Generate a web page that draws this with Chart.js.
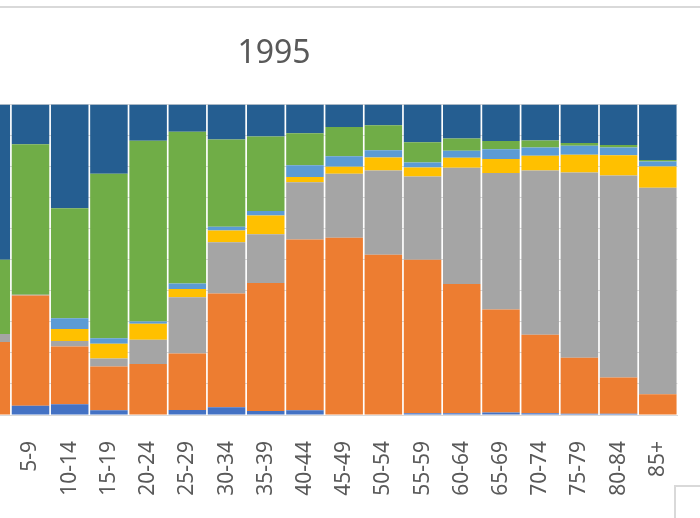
<!DOCTYPE html>
<html>
<head>
<meta charset="utf-8">
<script src="https://cdn.jsdelivr.net/npm/chart.js@4/dist/chart.umd.min.js"></script>
<style>
    html, body { margin: 0; padding: 0; background: #fff; }
    body { width: 700px; height: 518px; overflow: hidden; position: relative; }
    #frame-top { position: absolute; left: 0; top: 6px; width: 700px; height: 2px; background: #D9D9D9; }
    #legend-box { position: absolute; left: 674px; top: 485px; width: 40px; height: 40px;
        border-left: 2px solid #D9D9D9; border-top: 2px solid #D9D9D9; }
    #wrap { position: absolute; left: -161px; top: 0; width: 870px; height: 518px; }
</style>
</head>
<body>
<div id="frame-top"></div>
<div id="wrap"><canvas id="chart"></canvas></div>
<div id="legend-box"></div>
<script>
// الفئات العمرية
const categories = ['0-4', '5-9', '10-14', '15-19', '20-24', '25-29', '30-34', '35-39', '40-44',
    '45-49', '50-54', '55-59', '60-64', '65-69', '70-74', '75-79', '80-84', '85+'];

// قيم السلاسل (نسب مئوية مكدسة من الأسفل إلى الأعلى)
const series1 = [0, 3.0, 3.45, 1.5, 0, 1.6, 2.5, 1.3, 1.5, 0, 0, 0.6, 0.6, 0.8, 0.6, 0.4, 0.4, 0];
const series2 = [23.5, 35.5, 18.6, 14.1, 16.4, 18.2, 36.6, 41.2, 55.0, 57.1, 51.6, 49.4, 41.6, 33.2, 25.2, 18.0, 11.7, 6.7];
const series3 = [2.6, 0.2, 1.8, 2.6, 7.8, 18.1, 16.5, 15.7, 18.4, 20.6, 27.1, 26.8, 37.4, 43.9, 52.9, 59.7, 65.0, 66.5];
const series4 = [0, 0, 3.8, 4.7, 5.2, 2.7, 3.8, 6.0, 1.7, 2.2, 4.2, 2.9, 3.2, 4.5, 4.8, 5.7, 6.5, 6.8];
const series5 = [0, 0, 3.5, 1.8, 0.7, 1.7, 1.2, 1.5, 3.8, 3.4, 2.3, 1.6, 2.3, 3.2, 2.6, 2.9, 2.5, 1.6];
const series6 = [23.9, 48.5, 35.4, 53.0, 58.2, 48.9, 28.1, 24.0, 10.3, 9.4, 8.1, 6.5, 3.9, 2.6, 2.3, 0.9, 0.8, 0.5];
const series7 = [50.0, 12.8, 33.5, 22.3, 11.7, 8.8, 11.3, 10.3, 9.3, 7.3, 6.7, 12.2, 11.0, 11.8, 11.6, 12.4, 13.1, 17.9];

const seriesNames = ['Series1', 'Series2', 'Series3', 'Series4', 'Series5', 'Series6', 'Series7'];
const seriesValues = [series1, series2, series3, series4, series5, series6, series7];
const seriesColors = ['#4472C4', '#ED7D31', '#A5A5A5', '#FFC000', '#5B9BD5', '#70AD47', '#255E91'];

const textColor = '#595959';
const fontFamily = '"Noto Sans", "Open Sans", sans-serif';

// إنشاء مجموعات البيانات
function createDatasets() {
    return seriesValues.map((values, i) => ({
        label: seriesNames[i],
        data: values,
        backgroundColor: seriesColors[i],
        borderWidth: 0,
        barPercentage: 0.957,
        categoryPercentage: 1.0
    }));
}

new Chart(document.getElementById('chart'), {
    type: 'bar',
    data: {
        labels: categories,
        datasets: createDatasets()
    },
    options: {
        responsive: true,
        maintainAspectRatio: false,
        animation: false,
        layout: { padding: 0 },
        plugins: {
            legend: { display: false },
            tooltip: { enabled: false },
            title: {
                display: true,
                text: '1995',
                color: textColor,
                font: { family: fontFamily, size: 32, weight: 'normal' },
                padding: { top: 35, bottom: 31 }
            }
        },
        scales: {
            x: {
                stacked: true,
                grid: { display: false, drawTicks: false },
                border: { display: true, color: '#D9D9D9', width: 1 },
                ticks: {
                    color: textColor,
                    font: { family: fontFamily, size: 21 },
                    minRotation: 90,
                    maxRotation: 90,
                    padding: 26,
                    autoSkip: false
                },
                afterFit: function(scale) { scale.height = 103; }
            },
            y: {
                stacked: true,
                min: 0,
                max: 100,
                grid: { color: '#D9D9D9', drawTicks: false },
                border: { display: false },
                ticks: { display: false, stepSize: 10 },
                afterFit: function(scale) { scale.width = 132.7; }
            }
        }
    }
});
</script>
</body>
</html>
